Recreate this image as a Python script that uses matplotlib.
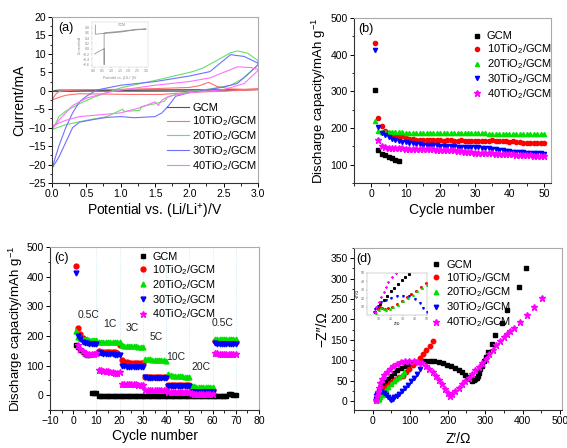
import numpy as np
import matplotlib
matplotlib.use("Agg")
import matplotlib.pyplot as plt
from matplotlib.ticker import MultipleLocator

plt.rcParams['font.family'] = ['Liberation Sans', 'DejaVu Sans']
plt.rcParams['mathtext.default'] = 'regular'

labels = ['GCM', '10TiO$_2$/GCM', '20TiO$_2$/GCM', '30TiO$_2$/GCM', '40TiO$_2$/GCM']
cv_colors = ['#555555', '#ff7070', '#66e066', '#7070ff', '#ff70ff']
colors = ['black', 'red', '#00e000', 'blue', 'magenta']
markers = ['s', 'o', '^', 'v', '*']

# ---- (a) CV curves: potential (V) and current (mA), closed loops ----
cv_v_gcm = [0.0, 0.05, 0.1, 0.5, 1.0, 1.5, 2.0, 2.5, 3.0, 2.5, 2.0, 1.5, 1.0, 0.5, 0.1, 0.05, 0.0]
cv_i_gcm = [-0.2, 0.1, 0.2, 0.2, 0.2, 0.25, 0.3, 0.3, 0.35, 0.0, -0.1, -0.1, -0.1, -0.1, -0.2, -0.2, -0.2]
cv_v_10 = [0.0, 0.05, 0.1, 0.3, 0.6, 1.0, 1.5, 2.0, 2.15, 2.28, 2.4, 2.6, 2.8, 3.0,
           3.0, 2.6, 2.2, 1.8, 1.6, 1.2, 0.8, 0.4, 0.2, 0.1, 0.0]
cv_i_10 = [-2.5, -1.0, -0.2, 0.2, 0.3, 0.4, 0.6, 0.9, 1.4, 2.3, 1.2, 0.5, 0.4, 0.6,
           0.3, 0.0, -0.3, -0.7, -1.0, -1.0, -0.9, -0.8, -1.2, -1.8, -2.5]
cv_v_20 = [0.0, 0.05, 0.1, 0.2, 0.4, 0.6, 0.8, 1.0, 1.5, 2.05, 2.2, 2.4, 2.6, 2.7, 2.85, 3.0,
           3.0, 2.8, 2.6, 2.3, 2.0, 1.8, 1.68, 1.64, 1.5, 1.3, 1.28, 1.05, 1.03, 0.8, 0.5, 0.2, 0.0]
cv_i_20 = [-10.5, -9.0, -7.0, -5.5, -3.5, -1.8, -0.5, 0.8, 2.8, 5.2, 6.2, 8.2, 10.3, 10.8, 10.2, 8.2,
           7.0, 3.5, 1.5, 0.5, -0.3, -1.0, -1.8, -2.8, -3.5, -4.3, -5.3, -5.6, -5.0, -7.0, -8.0, -9.2, -10.5]
cv_v_30 = [0.0, 0.05, 0.1, 0.2, 0.3, 0.4, 0.5, 0.65, 1.0, 1.5, 2.0, 2.3, 2.45, 2.6, 2.8, 3.0,
           3.0, 2.7, 2.5, 2.0, 1.8, 1.7, 1.6, 1.5, 1.2, 1.0, 0.8, 0.6, 0.4, 0.3, 0.25, 0.2, 0.15, 0.1, 0.0]
cv_i_30 = [-21.0, -18.0, -15.0, -10.0, -6.0, -3.0, -1.5, 0.2, 1.5, 2.5, 4.0, 5.2, 7.5, 9.8, 9.3, 7.5,
           7.0, 2.0, 1.0, -0.5, -1.5, -4.0, -6.0, -7.0, -7.3, -7.0, -7.2, -7.8, -8.5, -10.0, -12.0, -14.0, -16.0, -18.0, -21.0]
cv_v_40 = [0.0, 0.1, 0.2, 0.3, 0.5, 0.8, 1.0, 1.5, 2.0, 2.3, 2.5, 2.7, 2.9, 3.0,
           3.0, 2.8, 2.5, 2.0, 1.7, 1.6, 1.55, 1.5, 1.3, 1.0, 0.7, 0.4, 0.2, 0.0]
cv_i_40 = [-10.5, -8.0, -6.0, -4.0, -2.0, -0.5, 0.2, 1.5, 2.5, 3.5, 5.0, 6.5, 6.3, 5.8,
           5.5, 2.0, 0.3, -0.5, -1.5, -2.5, -4.0, -3.0, -4.5, -6.0, -6.5, -7.0, -8.0, -9.5]

# inset of (a): GCM alone
ins_a_v = [0.1, 0.1, 0.5, 1.0, 1.5, 2.0, 2.5, 3.0, 2.5, 2.0, 1.5, 1.0, 0.6, 0.6, 0.6, 0.3, 0.05]
ins_a_i = [0.9, 0.55, 0.58, 0.6, 0.63, 0.68, 0.72, 0.75, 0.74, 0.7, 0.66, 0.63, 0.6, -0.6, 0.0, -0.1, -0.2]

# ---- (b) cycling at constant rate ----
cap_b_gcm = [303, 140, 130, 126, 121, 117, 114, 111]
cap_b_10 = [433, 228, 205, 192, 186, 183, 181, 179, 177, 174,
            171, 169, 168, 168, 167, 167, 168, 167, 167, 167,
            166, 167, 167, 166, 166, 167, 166, 166, 166, 166,
            166, 166, 166, 166, 167, 165, 165, 164, 164, 163,
            164, 163, 163, 160, 160, 160, 160, 159, 159, 159]
cap_b_20 = [218, 193, 190, 189, 189, 188, 188, 188, 188, 187,
            187, 187, 187, 187, 187, 187, 187, 187, 187, 187,
            187, 187, 187, 186, 186, 186, 186, 186, 186, 186,
            186, 186, 186, 185, 185, 185, 185, 185, 185, 185,
            185, 184, 184, 184, 184, 184, 184, 183, 183, 183]
cap_b_30 = [412, 202, 186, 180, 175, 171, 168, 165, 163, 161,
            159, 158, 157, 156, 155, 155, 154, 153, 153, 152,
            151, 151, 150, 150, 149, 149, 148, 148, 148, 147,
            147, 146, 146, 145, 144, 142, 140, 139, 138, 137,
            136, 136, 135, 134, 133, 133, 132, 131, 131, 130]
cap_b_40 = [167, 152, 147, 146, 146, 145, 145, 145, 144,
            144, 144, 143, 143, 143, 142, 142, 142, 141, 141,
            140, 140, 139, 139, 138, 137, 136, 135, 134, 133,
            133, 132, 132, 131, 131, 130, 130, 129, 129, 128,
            128, 127, 127, 127, 126, 126, 125, 125, 125, 124]

# ---- (c) rate capability ----
cap_c_gcm = [170, 162, 153, 146, 140, 136, 134, 8, 7, 6,
             -2, -3, -3, -3, -3, -3, -3, -3, -3, -3,
             -3, -3, -3, -3, -3, -3, -3, -3, -3, -3,
             -3, -3, -3, -3, -3, -3, -3, -3, -3, -3,
             -3, -3, -3, -3, -3, -3, -3, -3, -3, -3,
             -3, -3, -3, -3, -3, -3, -3, -3, -3, -3,
             -3, -3, -3, -3, -3, -2, 4, 4, 1, 1]
cap_c_10 = [435, 228, 205, 192, 185, 182, 180, 179, 178, 177,
            148, 147, 147, 146, 146, 146, 145, 145, 144, 168,
            118, 113, 111, 110, 110, 109, 109, 109, 108, 108,
            63, 62, 62, 62, 62, 62, 62, 61, 61, 61,
            36, 35, 35, 35, 35, 35, 35, 34, 34, 34,
            19, 18, 18, 18, 18, 18, 18, 18, 18, 18,
            182, 181, 181, 181, 180, 180, 180, 180, 180, 180]
cap_c_20 = [215, 195, 192, 190, 189, 188, 187, 187, 186, 186,
            180, 180, 180, 179, 179, 179, 179, 178, 178, 178,
            168, 167, 167, 166, 166, 165, 165, 164, 164, 163,
            122, 121, 121, 120, 120, 119, 119, 118, 118, 117,
            70, 67, 66, 65, 65, 64, 64, 63, 63, 63,
            30, 30, 29, 29, 29, 29, 28, 28, 28, 28,
            190, 190, 189, 189, 189, 189, 188, 188, 188, 188]
cap_c_30 = [412, 200, 188, 181, 177, 175, 174, 173, 172, 172,
            142, 141, 140, 140, 139, 139, 138, 137, 136, 135,
            100, 97, 96, 96, 96, 96, 95, 95, 95, 95,
            60, 59, 59, 59, 59, 59, 59, 59, 58, 58,
            31, 30, 30, 30, 30, 30, 30, 30, 30, 30,
            11, 10, 10, 10, 10, 10, 10, 10, 10, 10,
            175, 174, 174, 174, 174, 174, 173, 173, 173, 173]
cap_c_40 = [168, 155, 148, 143, 140, 138, 139, 140, 141,
            85, 84, 82, 81, 80, 78, 77, 76, 75, 77,
            38, 37, 37, 37, 37, 37, 37, 36, 36, 36,
            19, 18, 18, 18, 17, 17, 17, 17, 16, 16,
            11, 10, 10, 10, 10, 10, 10, 10, 10, 10,
            6, 5, 5, 5, 5, 5, 5, 5, 5, 5,
            141, 141, 140, 140, 140, 140, 139, 139, 139, 138]
rate_labels = ['0.5C', '1C', '3C', '5C', '10C', '20C', '0.5C']
rate_label_x = [6.5, 15.8, 25.5, 35.7, 44, 55, 64.3]
rate_label_y = [271, 241, 227, 197, 129, 95, 244]

# ---- (d) Nyquist plots ----
zr_gcm = [10, 12, 15, 18, 22, 27, 33, 40, 48, 56, 65, 75, 85, 95, 106, 117, 128, 140, 152, 164, 176, 188,
          199, 210, 220, 230, 239, 247, 254, 260, 265, 270, 274, 277, 280, 283, 287, 291, 296, 302, 308,
          317, 326, 344, 357, 391, 408]
zi_gcm = [3, 10, 18, 25, 32, 40, 47, 55, 62, 69, 75, 81, 86, 90, 94, 96, 98, 98, 98, 97, 95, 92,
          89, 85, 81, 76, 70, 64, 58, 53, 50, 51, 53, 57, 62, 69, 78, 87, 97, 108, 120,
          140, 162, 192, 222, 279, 327]
zr_10 = [10, 12, 15, 19, 24, 30, 37, 45, 53, 62, 71, 80, 89, 98, 107, 116, 125, 134, 143, 152, 162]
zi_10 = [3, 8, 14, 20, 26, 32, 38, 44, 50, 55, 58, 62, 70, 79, 88, 96, 106, 116, 126, 136, 148]
zr_20 = [15, 17, 20, 24, 29, 35, 42, 49, 56, 63, 70, 77, 84]
zi_20 = [2, 6, 11, 16, 22, 28, 35, 42, 48, 54, 60, 65, 70]
zr_30 = [8, 9, 12, 17, 23, 29, 35, 41, 46, 49, 53, 58, 64, 71, 79, 87, 95, 103, 111, 118, 125]
zi_30 = [4, 12, 18, 21, 21, 20, 16, 11, 6, 3, 5, 9, 13, 18, 24, 31, 39, 48, 57, 66, 78]
zr_40 = [10, 11, 13, 16, 20, 25, 31, 38, 46, 55, 65, 76, 87, 98, 109, 120, 131, 141, 151, 160, 169, 178,
         186, 194, 200, 205, 212, 220, 229, 238, 247, 256, 265, 274, 283, 292, 301, 311, 321, 330, 340,
         349, 358, 367, 376, 392, 411, 431, 451]
zi_40 = [3, 12, 22, 33, 44, 54, 63, 71, 79, 86, 91, 95, 98, 99, 99, 96, 92, 86, 79, 70, 61, 51,
         41, 30, 20, 13, 18, 25, 33, 41, 49, 57, 66, 75, 84, 94, 104, 115, 126, 137, 148,
         156, 164, 171, 178, 193, 211, 231, 253]

# inset of (d): high-frequency region
izr = [[7, 9, 11, 14, 17, 20, 23, 26, 29, 32, 35],
       [7, 9, 11, 13, 15, 18, 21, 25, 29, 33, 37, 41, 45, 49],
       [8, 10, 12, 14, 16, 19, 22, 26, 30, 34, 38, 42, 46, 50],
       [6, 7, 9, 12, 16, 20, 25, 30, 35, 40, 44, 47, 50],
       [7, 8, 10, 12, 14, 16, 18, 21, 24]]
izi = [[3, 8, 13, 18, 23, 28, 32, 37, 41, 45, 49],
       [3, 7, 9, 8, 7, 8, 10, 13, 17, 21, 25, 29, 33, 38],
       [2, 6, 8, 7, 6, 7, 9, 12, 16, 20, 24, 28, 32, 36],
       [3, 7, 11, 15, 18, 20, 22, 23, 22, 19, 14, 8, 3],
       [3, 9, 15, 21, 27, 33, 39, 45, 50]]


def style_axes(ax):
    ax.tick_params(direction='out', labelsize=7.5, length=3, width=0.7, pad=1.5)
    ax.tick_params(which='minor', direction='out', length=1.8, width=0.6)
    ax.tick_params(top=False, right=False)
    for s in ['left', 'bottom']:
        ax.spines[s].set_color('#333333')
        ax.spines[s].set_linewidth(0.8)
    for s in ['top', 'right']:
        ax.spines[s].set_color('#aaaaaa')
        ax.spines[s].set_linewidth(0.8)


fig = plt.figure(figsize=(5.67, 4.48), dpi=100)

# (a)
ax = fig.add_axes([0.0917, 0.5915, 0.3633, 0.3705])
cv_v = [cv_v_gcm, cv_v_10, cv_v_20, cv_v_30, cv_v_40]
cv_i = [cv_i_gcm, cv_i_10, cv_i_20, cv_i_30, cv_i_40]
for v, i, c, lab in zip(cv_v, cv_i, cv_colors, labels):
    ax.plot(v, i, color=c, lw=0.8, label=lab)
ax.set_xlim(0, 3.0)
ax.set_ylim(-25, 20)
ax.xaxis.set_minor_locator(MultipleLocator(0.25))
ax.yaxis.set_major_locator(MultipleLocator(5))
ax.yaxis.set_minor_locator(MultipleLocator(2.5))
ax.set_xticks(np.arange(0, 3.01, 0.5))
ax.set_xticklabels(['0.0', '0.5', '1.0', '1.5', '2.0', '2.5', '3.0'])
style_axes(ax)
ax.set_xlabel('Potential vs. (Li/Li$^{+}$)/V', fontsize=10, labelpad=2)
ax.set_ylabel('Current/mA', fontsize=10, labelpad=1)
ax.text(0.03, 0.97, '(a)', transform=ax.transAxes, fontsize=9, va='top')
ax.legend(loc='lower right', bbox_to_anchor=(1.045, 0.0), frameon=False, fontsize=8,
          handlelength=2.0, handletextpad=0.3, labelspacing=0.1)

axi = fig.add_axes([0.162, 0.85, 0.099, 0.1])
axi.plot(ins_a_v, ins_a_i, color='#999999', lw=0.6)
axi.set_xlim(-0.1, 3.1)
axi.set_ylim(-0.7, 1.0)
axi.set_xticks([0.0, 0.5, 1.0, 1.5, 2.0, 2.5, 3.0])
axi.set_yticks([-0.6, -0.4, -0.2, 0.0, 0.2, 0.4, 0.6, 0.8])
axi.tick_params(labelsize=2.5, length=1, width=0.3, pad=0.5, colors='#888888')
for s in axi.spines.values():
    s.set_linewidth(0.3)
    s.set_color('#cccccc')
axi.set_xlabel('Potential vs. (Li/Li$^{+}$)/V', fontsize=2.5, labelpad=0.5, color='#888888')
axi.set_ylabel('Current/mA', fontsize=2.5, labelpad=0.5, color='#888888')
axi.text(1.4, 0.85, 'GCM', fontsize=2.5, color='#888888')

# (b)
ax = fig.add_axes([0.6243, 0.5915, 0.3474, 0.368])
caps_b = [cap_b_gcm, cap_b_10, cap_b_20, cap_b_30, cap_b_40]
starts_b = [1, 1, 1, 1, 2]
for y, s0, c, m, lab in zip(caps_b, starts_b, colors, markers, labels):
    x = np.arange(s0, s0 + len(y))
    ax.plot(x, y, ls='none', marker=m, color=c, ms=3 if m != '*' else 4.5, mec=c, label=lab)
ax.set_xlim(-5, 52)
ax.set_ylim(50, 500)
ax.xaxis.set_major_locator(MultipleLocator(10))
ax.xaxis.set_minor_locator(MultipleLocator(5))
ax.set_yticks([100, 200, 300, 400, 500])
ax.yaxis.set_minor_locator(MultipleLocator(50))
style_axes(ax)
ax.set_xlabel('Cycle number', fontsize=10, labelpad=3)
ax.set_ylabel('Discharge capacity/mAh g$^{-1}$', fontsize=9.5, labelpad=2)
ax.text(0.02, 0.97, '(b)', transform=ax.transAxes, fontsize=9, va='top')
ax.legend(loc='upper left', bbox_to_anchor=(0.545, 0.98), frameon=False, fontsize=8,
          handlelength=1.0, handletextpad=0.4, labelspacing=0.1)

# (c)
ax = fig.add_axes([0.0882, 0.0848, 0.3686, 0.3638])
for xv in range(10, 71, 10):
    ax.axvline(xv, color='#bde8f0', lw=0.6, ls=':', zorder=0)
caps_c = [cap_c_gcm, cap_c_10, cap_c_20, cap_c_30, cap_c_40]
starts_c = [1, 1, 1, 1, 2]
for y, s0, c, m, lab in zip(caps_c, starts_c, colors, markers, labels):
    x = np.arange(s0, s0 + len(y))
    ax.plot(x, y, ls='none', marker=m, color=c, ms=3.5 if m != '*' else 5, mec=c, label=lab)
for t, xt, yt in zip(rate_labels, rate_label_x, rate_label_y):
    ax.text(xt, yt, t, fontsize=7.5, ha='center', va='center', color='#222222')
ax.set_xlim(-10, 80)
ax.set_ylim(-50, 500)
ax.xaxis.set_major_locator(MultipleLocator(10))
ax.xaxis.set_minor_locator(MultipleLocator(5))
ax.yaxis.set_major_locator(MultipleLocator(100))
ax.yaxis.set_minor_locator(MultipleLocator(50))
style_axes(ax)
ax.set_xlabel('Cycle number', fontsize=10, labelpad=2)
ax.set_ylabel('Discharge capacity/mAh g$^{-1}$', fontsize=9.5, labelpad=1)
ax.text(0.02, 0.97, '(c)', transform=ax.transAxes, fontsize=9, va='top')
ax.legend(loc='upper left', bbox_to_anchor=(0.37, 1.03), frameon=False, fontsize=7.8,
          handlelength=1.0, handletextpad=0.4, labelspacing=0.1)

# (d)
ax = fig.add_axes([0.6243, 0.0848, 0.367, 0.3616])
zr = [zr_gcm, zr_10, zr_20, zr_30, zr_40]
zi = [zi_gcm, zi_10, zi_20, zi_30, zi_40]
for x, y, c, m, lab in zip(zr, zi, colors, markers, labels):
    ax.plot(x, y, ls='none', marker=m, color=c, ms=3.2 if m != '*' else 4.8, mec=c, label=lab)
ax.set_xlim(-50, 505)
ax.set_ylim(-22, 375)
ax.xaxis.set_major_locator(MultipleLocator(100))
ax.xaxis.set_minor_locator(MultipleLocator(50))
ax.yaxis.set_major_locator(MultipleLocator(50))
ax.yaxis.set_minor_locator(MultipleLocator(25))
style_axes(ax)
ax.set_xlabel('Z′/Ω', fontsize=10, labelpad=4)
ax.set_ylabel('−Z″/Ω', fontsize=10, labelpad=1)
ax.text(0.01, 0.97, '(d)', transform=ax.transAxes, fontsize=9, va='top')
ax.legend(loc='upper left', bbox_to_anchor=(0.32, 0.99), frameon=False, fontsize=8,
          handlelength=1.0, handletextpad=0.4, labelspacing=0.1)

axi = fig.add_axes([0.647, 0.297, 0.106, 0.094])
for x, y, c, m in zip(izr, izi, colors, markers):
    axi.plot(x, y, ls='none', marker=m, color=c, ms=1.2, mec=c)
axi.set_xlim(0, 50)
axi.set_ylim(0, 50)
axi.set_xticks([10, 20, 30, 40, 50])
axi.set_yticks([10, 20, 30, 40, 50])
axi.tick_params(labelsize=2.5, length=1, width=0.3, pad=0.5, colors='#666666')
for s in axi.spines.values():
    s.set_linewidth(0.3)
    s.set_color('#999999')
axi.set_xlabel('Z′/Ω', fontsize=2.5, labelpad=0.5)
axi.set_ylabel('−Z″/Ω', fontsize=2.5, labelpad=0.5)

fig.savefig('out.png', dpi=100)
